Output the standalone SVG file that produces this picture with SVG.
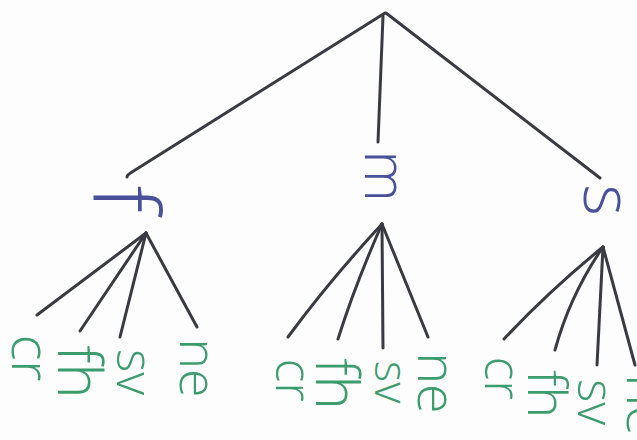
<svg xmlns="http://www.w3.org/2000/svg" width="637" height="440" viewBox="0 0 637 440">
  <style>
    .edge { stroke: #3a3a42; stroke-width: 3; fill: none; stroke-linecap: round; stroke-linejoin: round; }
    .blue { fill: #4a5099; font-family: "Open Sans", "DejaVu Sans", sans-serif; font-weight: 300; text-anchor: middle; }
    .green { fill: #3c9c6e; font-family: "Open Sans", "DejaVu Sans", sans-serif; font-weight: 300; text-anchor: middle; }
  </style>
  <rect width="637" height="440" fill="#fdfdfd"/>
  <g id="connectors">
    <path class="edge" d="M385,13 L132,172 Q127,175 127,177"/>
    <path class="edge" d="M383,16 L378,142"/>
    <path class="edge" d="M386,13 L600,178"/>
    <path class="edge" d="M146,233 L37,315"/>
    <path class="edge" d="M146,233 L80,331"/>
    <path class="edge" d="M146,233 L120,337"/>
    <path class="edge" d="M146,233 L197,327"/>
    <path class="edge" d="M382,224 Q330,280 288,337"/>
    <path class="edge" d="M382,224 Q355,285 338,339"/>
    <path class="edge" d="M382,224 L383,348"/>
    <path class="edge" d="M382,224 L428,337"/>
    <path class="edge" d="M603,247 Q550,290 504,339"/>
    <path class="edge" d="M603,247 Q570,295 555,350"/>
    <path class="edge" d="M603,247 L597,365"/>
    <path class="edge" d="M603,247 L635,365"/>
  </g>
  <g id="node-f"><text class="blue" font-size="90" transform="translate(94,199) rotate(90)">f</text></g>
  <g id="node-m"><text class="blue" font-size="58" transform="translate(365,176) rotate(90)">m</text></g>
  <g id="node-s"><text class="blue" font-size="68" transform="translate(584,200) rotate(90)">s</text></g>

  <g id="f-cr"><text class="green" font-size="54" transform="translate(12,358) rotate(90)">cr</text></g>
  <g id="f-fh"><text class="green" font-size="60" transform="translate(58,372) rotate(90)">fh</text></g>
  <g id="f-sv"><text class="green" font-size="50" transform="translate(117,372) rotate(90)">sv</text></g>
  <g id="f-ne"><text class="green" font-size="52" transform="translate(180,368) rotate(90)">ne</text></g>

  <g id="m-cr"><text class="green" font-size="50" transform="translate(276,380) rotate(90)">cr</text></g>
  <g id="m-fh"><text class="green" font-size="58" transform="translate(316,384) rotate(90)">fh</text></g>
  <g id="m-sv"><text class="green" font-size="46" transform="translate(375,382) rotate(90)">sv</text></g>
  <g id="m-ne"><text class="green" font-size="54" transform="translate(418,383) rotate(90)">ne</text></g>

  <g id="s-cr"><text class="green" font-size="50" transform="translate(485,378) rotate(90)">cr</text></g>
  <g id="s-fh"><text class="green" font-size="54" transform="translate(528,394) rotate(90)">fh</text></g>
  <g id="s-sv"><text class="green" font-size="50" transform="translate(578,402) rotate(90)">sv</text></g>
  <g id="s-ne"><text class="green" font-size="54" transform="translate(627,405) rotate(90)">ne</text></g>
</svg>
